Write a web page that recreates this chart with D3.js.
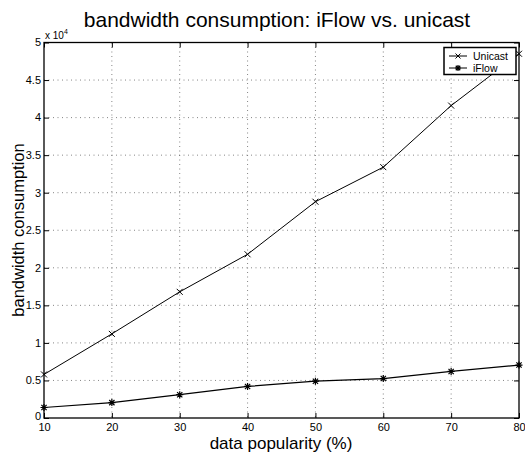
<!DOCTYPE html>
<html>
<head>
<meta charset="utf-8">
<script src="https://cdn.jsdelivr.net/npm/d3@7"></script>
<style>
  body { margin: 0; background: #fff; }
  svg { display: block; font-family: "Liberation Sans", Arial, Helvetica, sans-serif; }
  .grid line { stroke: #666; stroke-dasharray: 1, 3.5; stroke-width: 0.8; }
</style>
</head>
<body>
<svg id="chart" width="525" height="454"></svg>
<script>
// data
var popularity = [10, 20, 30, 40, 50, 60, 70, 80]
var unicast = [5800, 11200, 16800, 21800, 28800, 33400, 41600, 48500]
var iflow = [1400, 2050, 3100, 4200, 4900, 5250, 6200, 7050]

var xTicks = [10, 20, 30, 40, 50, 60, 70, 80]
var yTicks = [0, 5000, 10000, 15000, 20000, 25000, 30000, 35000, 40000, 45000, 50000]
var yTickLabels = ['0', '0.5', '1', '1.5', '2', '2.5', '3', '3.5', '4', '4.5', '5']
var seriesNames = ['Unicast', 'iFlow']

var svg = d3.select('#chart')

// plot box (window.top is taken, so use own names)
var plotLeft = 44, plotRight = 519, plotTop = 42.5, plotBottom = 418
var tickLen = 5

var x = d3.scaleLinear().domain([10, 80]).range([plotLeft, plotRight])
var y = d3.scaleLinear().domain([0, 50000]).range([plotBottom, plotTop])

// grid (dotted)
var grid = svg.append('g').attr('class', 'grid')
grid.selectAll('.gx')
  .data(xTicks.slice(1, -1))
  .enter().append('line')
  .attr('x1', function (d) { return x(d) }).attr('x2', function (d) { return x(d) })
  .attr('y1', plotTop).attr('y2', plotBottom)
grid.selectAll('.gy')
  .data(yTicks.slice(1, -1))
  .enter().append('line')
  .attr('y1', function (d) { return y(d) }).attr('y2', function (d) { return y(d) })
  .attr('x1', plotLeft).attr('x2', plotRight)

// axes, ticks pointing inward on all four sides
var fmtY = function (d) { return yTickLabels[yTicks.indexOf(d)] }

var gBottom = svg.append('g')
  .attr('transform', 'translate(0,' + plotBottom + ')')
  .call(d3.axisBottom(x).tickValues(xTicks).tickSize(-tickLen).tickPadding(5).tickSizeOuter(0))
var gTop = svg.append('g')
  .attr('transform', 'translate(0,' + plotTop + ')')
  .call(d3.axisTop(x).tickValues(xTicks).tickSize(-tickLen).tickFormat('').tickSizeOuter(0))
var gLeft = svg.append('g')
  .attr('transform', 'translate(' + plotLeft + ',0)')
  .call(d3.axisLeft(y).tickValues(yTicks).tickFormat(fmtY).tickSize(-tickLen).tickPadding(3).tickSizeOuter(0))
var gRight = svg.append('g')
  .attr('transform', 'translate(' + plotRight + ',0)')
  .call(d3.axisRight(y).tickValues(yTicks).tickSize(-tickLen).tickFormat('').tickSizeOuter(0))

;[gBottom, gTop, gLeft, gRight].forEach(function (g) {
  g.select('.domain').remove()
  g.selectAll('.tick line').attr('stroke', '#000').attr('stroke-width', 1)
  g.selectAll('.tick text').attr('fill', '#000').style('font-size', '11px')
    .style('font-family', '"Liberation Sans", Arial, sans-serif')
})
gLeft.selectAll('.tick text').attr('dy', '0.3em')
// the "0" sits a little higher so it clears the "10" below it
gLeft.selectAll('.tick text').filter(function (d) { return d === 0 }).attr('dy', '0.15em')

// frame
svg.append('rect')
  .attr('x', plotLeft).attr('y', plotTop)
  .attr('width', plotRight - plotLeft).attr('height', plotBottom - plotTop)
  .attr('fill', 'none').attr('stroke', '#000').attr('stroke-width', 1.3)

// exponent label
var expo = svg.append('text')
  .attr('x', 45).attr('y', 38.5)
  .style('font-size', '10px')
expo.append('tspan').text('x 10')
expo.append('tspan').attr('dy', -5).style('font-size', '7px').text('4')

// lines
var line = d3.line()
  .x(function (d, i) { return x(popularity[i]) })
  .y(function (d) { return y(d) })

svg.append('path').datum(unicast)
  .attr('d', line).attr('fill', 'none').attr('stroke', '#000').attr('stroke-width', 1)
svg.append('path').datum(iflow)
  .attr('d', line).attr('fill', 'none').attr('stroke', '#000').attr('stroke-width', 1.2)

// markers
function crossMarker (g, cx, cy, s) {
  g.append('path')
    .attr('d', 'M' + (cx - s) + ',' + (cy - s) + 'L' + (cx + s) + ',' + (cy + s) +
      'M' + (cx - s) + ',' + (cy + s) + 'L' + (cx + s) + ',' + (cy - s))
    .attr('stroke', '#000').attr('stroke-width', 1).attr('fill', 'none')
}
function starMarker (g, cx, cy, s) {
  var d = s * 0.75
  g.append('path')
    .attr('d', 'M' + (cx - s) + ',' + cy + 'L' + (cx + s) + ',' + cy +
      'M' + cx + ',' + (cy - s) + 'L' + cx + ',' + (cy + s) +
      'M' + (cx - d) + ',' + (cy - d) + 'L' + (cx + d) + ',' + (cy + d) +
      'M' + (cx - d) + ',' + (cy + d) + 'L' + (cx + d) + ',' + (cy - d))
    .attr('stroke', '#000').attr('stroke-width', 1.2).attr('fill', 'none')
}

var marks = svg.append('g')
unicast.forEach(function (v, i) { crossMarker(marks, x(popularity[i]), y(v), 3) })
iflow.forEach(function (v, i) { starMarker(marks, x(popularity[i]), y(v), 3.5) })

// legend
var legend = svg.append('g')
legend.append('rect')
  .attr('x', 444).attr('y', 47.5).attr('width', 72).attr('height', 27)
  .attr('fill', '#fff').attr('stroke', '#000').attr('stroke-width', 1.5)
seriesNames.forEach(function (name, i) {
  var ly = 56 + i * 12
  legend.append('line')
    .attr('x1', 449).attr('x2', 467).attr('y1', ly).attr('y2', ly)
    .attr('stroke', '#000').attr('stroke-width', 1)
  if (i === 0) crossMarker(legend, 458, ly, 2.5)
  else starMarker(legend, 458, ly, 3)
  legend.append('text')
    .attr('x', 473).attr('y', ly).attr('dy', '0.35em')
    .style('font-size', '10.5px').text(name)
})

// titles
svg.append('text')
  .attr('x', 277).attr('y', 27)
  .attr('text-anchor', 'middle')
  .style('font-size', '21px')
  .text('bandwidth consumption: iFlow vs. unicast')

svg.append('text')
  .attr('x', 281).attr('y', 449)
  .attr('text-anchor', 'middle')
  .style('font-size', '17px')
  .text('data popularity (%)')

svg.append('text')
  .attr('transform', 'translate(24,230) rotate(-90)')
  .attr('text-anchor', 'middle')
  .style('font-size', '16.5px')
  .text('bandwidth consumption')
</script>
</body>
</html>
